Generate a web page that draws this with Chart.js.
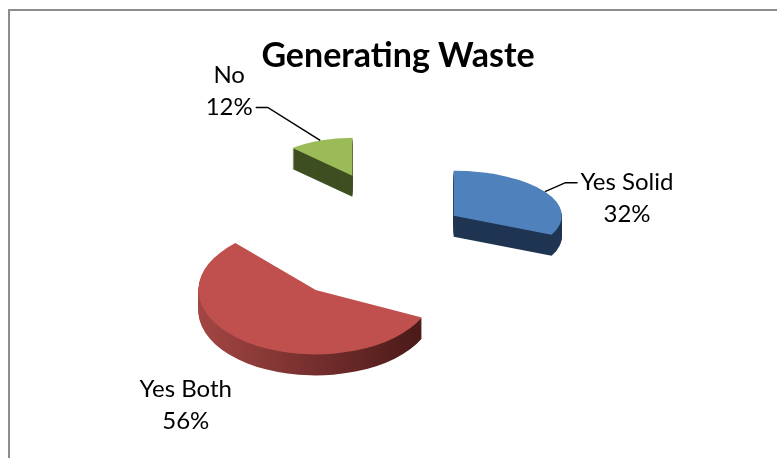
<!DOCTYPE html>
<html>
<head>
<meta charset="utf-8">
<script src="https://cdn.jsdelivr.net/npm/chart.js@4/dist/chart.umd.min.js"></script>
<style>
  html, body { margin: 0; padding: 0; background: #fff; }
  #wrap { position: relative; width: 777px; height: 458px; overflow: hidden; }
  #frame { position: absolute; left: 8px; top: 9px; right: -10px; bottom: -10px;
           border-left: 2px solid #8c8c8c; border-top: 2px solid #8c8c8c; }
  #pieChart { position: absolute; left: 0; top: 0; }
</style>
</head>
<body>
<div id="wrap">
  <div id="frame"></div>
  <canvas id="pieChart" width="777" height="458"></canvas>
</div>
<script>
// dati del grafico
var title = "Generating Waste";
var categories = ["Yes Solid", "Yes Both", "No"];
var values = [32, 56, 12];

// stile
var topColors = ["#4f81bd", "#c0504d", "#9bbb59"];
var sideColors = ["#1f3552", ["#a34643", "#4a1a19"], "#3f4f22"];
var explode = [66, 140, 124];          // distacco delle fette (px)
// finta prospettiva: [scala x, schiacciamento y] per fetta
var perspective = [[0.94, 0.39], [1.02, 0.56], [0.76, 0.33]];
var labelShift = [[82, 7], [-61, 63], [-91, -49]];
var labelLeader = [true, false, true];
var SQUASH = 0.5;                      // inclinazione 3d
var DEPTH = 21;                        // spessore della torta
var LABEL_FONT = "24px Lato";
var LINE_GAP = 32;

function apexOf(arc, i) {
  var mid = (arc.startAngle + arc.endAngle) / 2;
  return {
    x: arc.x + Math.cos(mid) * explode[i],
    y: arc.y + Math.sin(mid) * explode[i] * SQUASH
  };
}

function placeSlice(ctx, arc, i, d) {
  var a = apexOf(arc, i);
  ctx.translate(a.x, a.y + d);
  ctx.scale(perspective[i][0], perspective[i][1]);
  ctx.translate(-arc.x, -arc.y);
}

function sideFill(ctx, arc, i) {
  var c = sideColors[i];
  if (!Array.isArray(c)) return c;
  var g = ctx.createLinearGradient(arc.x - arc.outerRadius, 0, arc.x + arc.outerRadius * 0.9, 0);
  g.addColorStop(0, c[0]);
  g.addColorStop(1, c[1]);
  return g;
}

// torta 3d: prima i lati scuri, poi la faccia sopra
var pie3d = {
  id: "pie3d",
  beforeDatasetsDraw: function(chart) {
    var ctx = chart.ctx;
    var arcs = chart.getDatasetMeta(0).data;
    arcs.forEach(function(arc, i) {
      var orig = arc.options;
      var side = Object.create(orig);
      Object.defineProperty(side, "backgroundColor", { value: sideFill(ctx, arc, i), enumerable: true });
      arc.options = side;
      for (var d = DEPTH; d >= 1; d--) {
        ctx.save();
        placeSlice(ctx, arc, i, d);
        arc.draw(ctx);
        ctx.restore();
      }
      arc.options = orig;
      ctx.save();
      placeSlice(ctx, arc, i, 0);
      arc.draw(ctx);
      ctx.restore();
    });
    return false;
  },
  afterDraw: function(chart) {
    var ctx = chart.ctx;
    var arcs = chart.getDatasetMeta(0).data;
    var total = values.reduce(function(a, b) { return a + b; }, 0);
    ctx.save();
    ctx.font = LABEL_FONT;
    ctx.fillStyle = "#000";
    ctx.strokeStyle = "#000";
    ctx.lineWidth = 1.5;
    ctx.textAlign = "center";
    ctx.textBaseline = "middle";
    arcs.forEach(function(arc, i) {
      var mid = (arc.startAngle + arc.endAngle) / 2;
      var a = apexOf(arc, i);
      var px = a.x + Math.cos(mid) * arc.outerRadius * perspective[i][0];
      var py = a.y + Math.sin(mid) * arc.outerRadius * perspective[i][1];
      var lines = [categories[i], Math.round(values[i] / total * 100) + "%"];
      var cx = px + labelShift[i][0];
      var cy = py + labelShift[i][1];
      var y1 = cy - LINE_GAP / 2, y2 = cy + LINE_GAP / 2;
      ctx.fillText(lines[0], cx, y1);
      ctx.fillText(lines[1], cx, y2);
      if (labelLeader[i]) {
        var ly = Math.abs(y1 - py) < Math.abs(y2 - py) ? y1 : y2;
        var lw = ctx.measureText(ly === y1 ? lines[0] : lines[1]).width;
        var dir = px < cx ? -1 : 1;
        var ex = cx + dir * (lw / 2 + 3);
        ctx.beginPath();
        ctx.moveTo(px, py);
        ctx.lineTo(ex + dir * 12, ly);
        ctx.lineTo(ex, ly);
        ctx.stroke();
      }
    });
    ctx.restore();
  }
};

var ctx = document.getElementById("pieChart").getContext("2d");
new Chart(ctx, {
  type: "pie",
  data: {
    labels: categories,
    datasets: [{
      data: values,
      backgroundColor: topColors,
      borderWidth: 0,
      radius: 115,
      clip: false
    }]
  },
  options: {
    responsive: false,
    animation: false,
    events: [],
    layout: { padding: { left: 19, right: 0, top: 0, bottom: 68 } },
    plugins: {
      legend: { display: false },
      tooltip: { enabled: false },
      title: {
        display: true,
        text: title,
        color: "#000",
        font: { family: "Lato", size: 34, weight: "bold", lineHeight: 1.2 },
        padding: { top: 36, bottom: 0 }
      }
    }
  },
  plugins: [pie3d]
});
</script>
</body>
</html>
